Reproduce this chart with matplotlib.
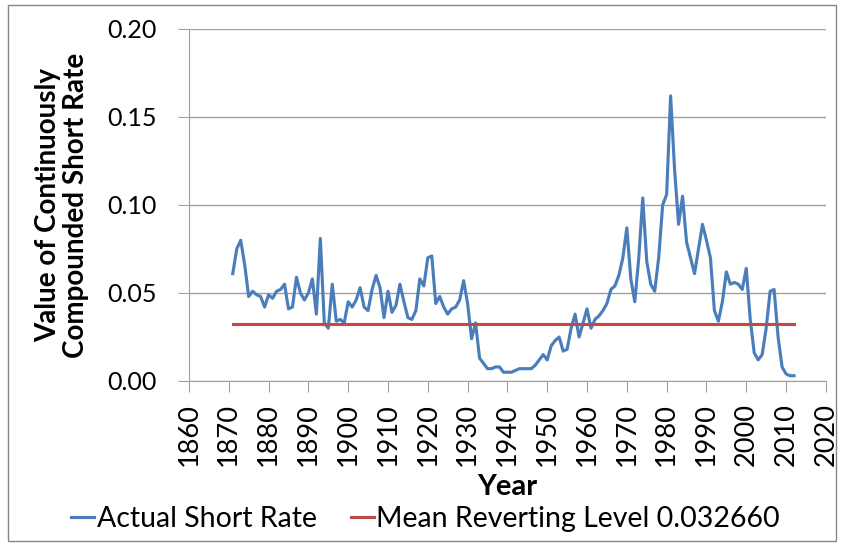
import matplotlib
matplotlib.use('Agg')
import matplotlib.pyplot as plt
import numpy as np
from matplotlib.patches import Rectangle

# annual short rate values, 1871 - 2012
years = np.arange(1871, 2013)
short_rate = [
    0.061, 0.075, 0.080, 0.066, 0.048, 0.051, 0.049, 0.048, 0.042, 0.049,  # 1871-1880
    0.047, 0.051, 0.052, 0.055, 0.041, 0.042, 0.059, 0.050, 0.046, 0.050,  # 1881-1890
    0.058, 0.038, 0.081, 0.033, 0.030, 0.055, 0.034, 0.035, 0.033, 0.045,  # 1891-1900
    0.042, 0.046, 0.053, 0.042, 0.040, 0.052, 0.060, 0.053, 0.036, 0.051,  # 1901-1910
    0.039, 0.043, 0.055, 0.045, 0.036, 0.035, 0.040, 0.058, 0.054, 0.070,  # 1911-1920
    0.071, 0.044, 0.048, 0.042, 0.038, 0.041, 0.042, 0.046, 0.057, 0.044,  # 1921-1930
    0.024, 0.033, 0.013, 0.010, 0.007, 0.007, 0.008, 0.008, 0.005, 0.005,  # 1931-1940
    0.005, 0.006, 0.007, 0.007, 0.007, 0.007, 0.009, 0.012, 0.015, 0.012,  # 1941-1950
    0.020, 0.023, 0.025, 0.017, 0.018, 0.030, 0.038, 0.025, 0.033, 0.041,  # 1951-1960
    0.030, 0.035, 0.037, 0.040, 0.044, 0.052, 0.054, 0.060, 0.070, 0.087,  # 1961-1970
    0.058, 0.045, 0.070, 0.104, 0.068, 0.055, 0.051, 0.070, 0.100, 0.106,  # 1971-1980
    0.162, 0.120, 0.089, 0.105, 0.079, 0.070, 0.061, 0.075, 0.089, 0.080,  # 1981-1990
    0.070, 0.040, 0.034, 0.045, 0.062, 0.055, 0.056, 0.055, 0.052, 0.064,  # 1991-2000
    0.035, 0.016, 0.012, 0.015, 0.030, 0.051, 0.052, 0.025, 0.008, 0.004,  # 2001-2010
    0.003, 0.003,                                                          # 2011-2012
]
mean_level = 0.032660
mean_line = [mean_level] * len(years)

x_ticks = np.arange(1860, 2021, 10)
y_ticks = [0.00, 0.05, 0.10, 0.15, 0.20]

plt.rcParams['font.family'] = ['Lato', 'DejaVu Sans']

fig = plt.figure(figsize=(8.41, 5.46), dpi=100)
ax = fig.add_axes([0.2247, 0.3022, 0.7573, 0.6447])

ax.plot(years, short_rate, color='#4A7EBB', lw=2.25, label='Actual Short Rate')
ax.plot(years, mean_line, color='#BE4B48', lw=2.25,
        label='Mean Reverting Level %.6f' % mean_level)

ax.set_xlim(1860, 2020)
ax.set_ylim(0, 0.20)
ax.set_xticks(x_ticks)
ax.set_xticklabels([str(t) for t in x_ticks], rotation=90, fontsize=19.5)
ax.set_yticks(y_ticks)
ax.set_yticklabels(['%.2f' % t for t in y_ticks], fontsize=18)

ax.grid(axis='y', color='#A0A0A0', lw=1.0)
ax.set_axisbelow(True)
for s in ['top', 'right']:
    ax.spines[s].set_visible(False)
for s in ['left', 'bottom']:
    ax.spines[s].set_color('#A0A0A0')
ax.tick_params(axis='y', direction='out', length=8, color='#A0A0A0', pad=15)
ax.tick_params(axis='x', direction='out', length=8, color='#A0A0A0', pad=8)

# axis titles placed in figure pixels to follow the original layout
fig.text(507 / 841, 1 - 487 / 546, 'Year', fontsize=21, fontweight='bold',
         ha='center', va='center')
fig.text(62 / 841, 1 - 205 / 546, 'Value of Continuously\nCompounded Short Rate',
         fontsize=20, fontweight='bold', rotation=90, ha='center', va='center',
         multialignment='center', linespacing=1.05)

fig.legend(loc='center', bbox_to_anchor=(0.506, 1 - 519 / 546), ncol=2, frameon=False,
           fontsize=20.5, handlelength=0.8, handletextpad=0.1, columnspacing=1.2,
           borderaxespad=0, borderpad=0)

fig.patches.append(Rectangle((0.009, 0.009), 0.985, 0.982, transform=fig.transFigure,
                             fill=False, edgecolor='#868686', lw=1.0))

fig.savefig('out.png', dpi=100)
